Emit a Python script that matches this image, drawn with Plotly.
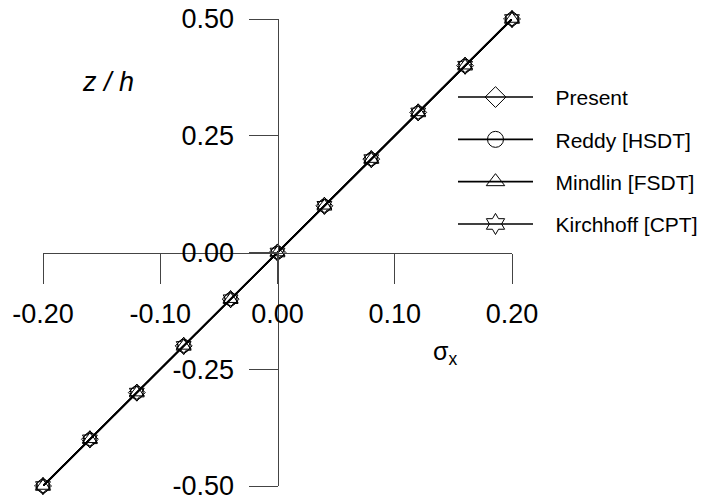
import plotly.graph_objects as go

# data
z_h = [-0.5, -0.4, -0.3, -0.2, -0.1, 0.0, 0.1, 0.2, 0.3, 0.4, 0.5]
present = [-0.200, -0.160, -0.120, -0.080, -0.040, 0.000, 0.040, 0.080, 0.120, 0.160, 0.200]
reddy = [-0.200, -0.160, -0.120, -0.080, -0.040, 0.000, 0.040, 0.080, 0.120, 0.160, 0.200]
mindlin = [-0.200, -0.160, -0.120, -0.080, -0.040, 0.000, 0.040, 0.080, 0.120, 0.160, 0.200]
kirchhoff = [-0.200, -0.160, -0.120, -0.080, -0.040, 0.000, 0.040, 0.080, 0.120, 0.160, 0.200]
names = ["Present", "Reddy [HSDT]", "Mindlin [FSDT]", "Kirchhoff [CPT]"]
symbols = ["diamond-open", "circle-open", "triangle-up-open", "hexagram-open"]
x_ticks = [-0.2, -0.1, 0.0, 0.1, 0.2]
x_ticktext = ["-0.20", "-0.10", "0.00", "0.10", "0.20"]
y_ticks = [-0.5, -0.25, 0.0, 0.25, 0.5]
y_ticktext = ["-0.50", "-0.25", "0.00", "0.25", "0.50"]

FONT = "Liberation Sans, Arial, sans-serif"
AX = "#444444"
PAD = "\u00a0\u00a0\u00a0"

fig = go.Figure()
for name, vals, sym in zip(names, [present, reddy, mindlin, kirchhoff], symbols):
    fig.add_trace(go.Scatter(
        x=vals, y=z_h, mode="lines+markers", name=name, showlegend=False,
        line=dict(color="black", width=1.7),
        marker=dict(symbol=sym, size=13, color="black", line=dict(width=1)),
        cliponaxis=False,
    ))
# legend entries
for name, sym in zip(names, symbols):
    fig.add_trace(go.Scatter(
        x=[None], y=[None], mode="lines+markers", name=PAD + name, legendgroup=name,
        line=dict(color="black", width=1.6),
        marker=dict(symbol=sym, size=16, color="black", line=dict(width=1)),
    ))

fig.update_layout(
    width=708, height=504,
    margin=dict(l=35, r=204, t=11, b=26),
    paper_bgcolor="white", plot_bgcolor="white",
    font=dict(family=FONT, color="black", size=27),
    showlegend=True,
    legend=dict(
        x=0.8742, y=0.876, xanchor="left", yanchor="top",
        font=dict(size=21, family=FONT), bgcolor="rgba(0,0,0,0)",
        traceorder="grouped", tracegroupgap=12, itemwidth=75,
    ),
    xaxis=dict(
        range=[-0.2, 0.2], tickvals=x_ticks, ticktext=x_ticktext,
        showgrid=False, zeroline=False, showline=True, linecolor=AX, linewidth=1,
        ticks="outside", ticklen=30, tickcolor=AX, tickwidth=1,
        anchor="free", position=0.5, ticklabelstandoff=7, automargin=False,
        ticklabeloverflow="allow",
        tickfont=dict(size=27),
    ),
    yaxis=dict(
        range=[-0.5, 0.5], tickvals=y_ticks, ticktext=y_ticktext,
        showgrid=False, zeroline=False, showline=True, linecolor=AX, linewidth=1,
        ticks="outside", ticklen=29, tickcolor=AX, tickwidth=1,
        anchor="free", position=0.5, ticklabelstandoff=9, automargin=False,
        ticklabeloverflow="allow",
        tickfont=dict(size=27),
    ),
    annotations=[
        dict(text="<i>z / h</i>", xref="paper", yref="paper", x=0.139, y=0.865,
             xanchor="center", yanchor="middle",
             showarrow=False, font=dict(size=27, family=FONT)),
        dict(text="σ<sub>x</sub>", xref="paper", yref="paper", x=0.858, y=0.285,
             xanchor="center", yanchor="middle",
             showarrow=False, font=dict(size=25, family=FONT)),
    ],
)

fig.write_html("out.html")
